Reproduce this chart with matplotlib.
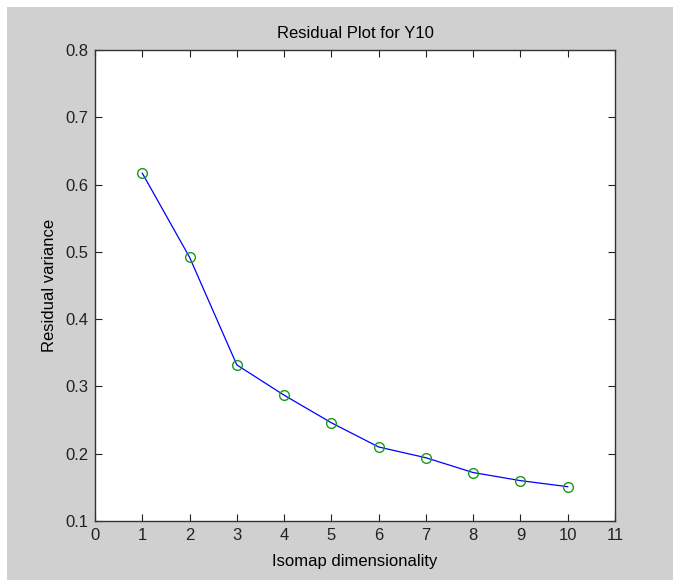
import matplotlib
matplotlib.use("Agg")
import matplotlib.pyplot as plt
from matplotlib.patches import Rectangle

plt.rcParams['font.family'] = ['Liberation Sans Narrow', 'Liberation Sans', 'DejaVu Sans']

# data
dims = [1, 2, 3, 4, 5, 6, 7, 8, 9, 10]
resid = [0.617, 0.492, 0.332, 0.287, 0.246, 0.210, 0.194, 0.172, 0.160, 0.151]
xticks = list(range(0, 12))
yticks = [0.1, 0.2, 0.3, 0.4, 0.5, 0.6, 0.7, 0.8]

fig = plt.figure(figsize=(6.73, 5.8), dpi=100, facecolor='white')
# grey window area with a thin white border on top / left
fig.patches.append(Rectangle((7/673, 0), 1 - 7/673, 1 - 7/580, transform=fig.transFigure,
                             facecolor='#d0d0d0', edgecolor='none', zorder=-10))

ax = fig.add_axes([95/673, 59/580, 520/673, 471/580])
ax.set_facecolor('white')

ax.plot(dims, resid, color='blue', linewidth=0.9)
ax.plot(dims, resid, linestyle='none', marker='o', markersize=7,
        markerfacecolor='none', markeredgecolor='#1a9a1a', markeredgewidth=1.0)

ax.set_xlim(0, 11)
ax.set_ylim(0.1, 0.8)
ax.set_xticks(xticks)
ax.set_yticks(yticks)
ax.set_yticklabels(['0.1', '0.2', '0.3', '0.4', '0.5', '0.6', '0.7', '0.8'])

ax.tick_params(direction='in', top=True, right=True, length=5, width=0.8,
               labelsize=12, colors='#222222', pad=5)
for s in ax.spines.values():
    s.set_color('#333333')
    s.set_linewidth(1.0)

ax.set_title('Residual Plot for Y10', fontsize=12, pad=9)
ax.set_xlabel('Isomap dimensionality', fontsize=12, labelpad=8)
ax.set_ylabel('Residual variance', fontsize=12, labelpad=6)

fig.savefig('out.png', dpi=100, facecolor=fig.get_facecolor())
